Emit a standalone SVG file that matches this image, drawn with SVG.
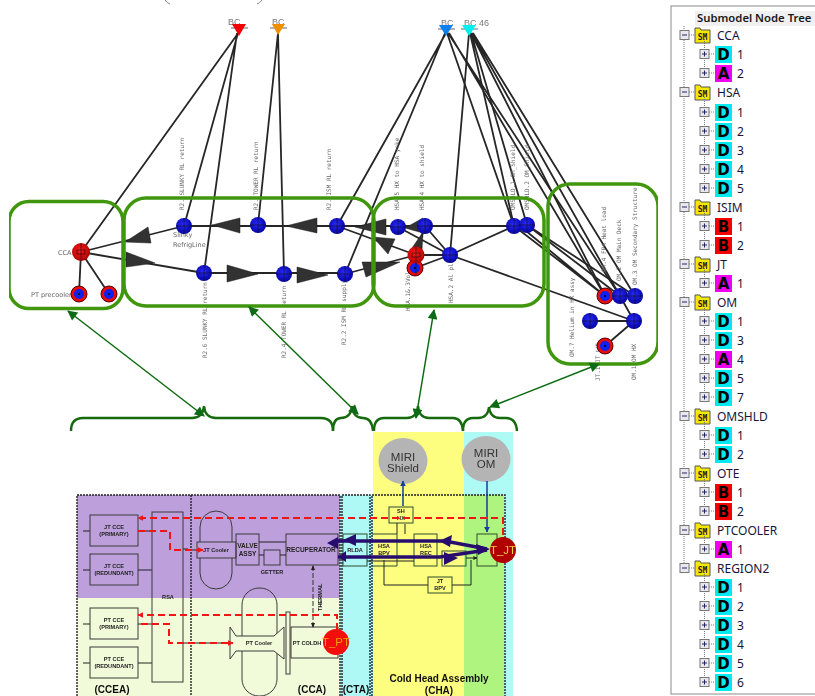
<svg xmlns="http://www.w3.org/2000/svg" width="815" height="696" viewBox="0 0 815 696">
<style>
text{font-family:"Liberation Sans",Arial,sans-serif}
.m{font-family:"DejaVu Sans Mono","Liberation Mono",monospace;font-size:6px;fill:#666}
.gl{font-family:"DejaVu Sans","Liberation Sans",sans-serif;font-size:6.5px;fill:#666}
.bc{font-size:9px;fill:#777}
.c{fill:none;stroke:#262626;stroke-width:1.8}
.gb{fill:none;stroke:#3f960c;stroke-width:3.5}
.ga{fill:none;stroke:#0e6b12;stroke-width:1.5;marker-start:url(#gm);marker-end:url(#gm)}
.br{fill:none;stroke:#176b10;stroke-width:2.4}
.ar{fill:#303030;stroke:#1a1a1a;stroke-width:.5}
.x{stroke:#111;stroke-width:.6;fill:none}
.b{fill:none;stroke:#3a3a3a;stroke-width:1}
.bg{fill:none;stroke:#2f4f2f;stroke-width:1}
.w{fill:none;stroke:#222;stroke-width:1}
.dsh{fill:none;stroke:#222;stroke-width:1.4;stroke-dasharray:2 1}
.rd{fill:none;stroke:#f01414;stroke-width:2;stroke-dasharray:7 4}
.nv{fill:none;stroke:#26116e;stroke-width:3.5}
.t5{font-size:5.6px;font-weight:bold;fill:#222;text-anchor:middle}
.t6{font-size:6.5px;font-weight:bold;fill:#222;text-anchor:middle}
.cap{font-size:10px;font-weight:bold;fill:#111;text-anchor:middle}
.miri{font-size:11.5px;fill:#333;text-anchor:middle}
.tp{font-size:11.5px;text-anchor:middle}
.hd{font-family:"Noto Sans",sans-serif;font-size:11.3px;font-weight:600;fill:#1a1a1a}
.tn{font-family:"Noto Sans",sans-serif;font-size:12px;fill:#16163a}
.D{fill:#00e8f0}.A{fill:#f000f0}.B{fill:#f50000}
.l{font-family:"DejaVu Sans",sans-serif;font-size:15px;font-weight:bold;fill:#000;text-anchor:middle}
.dot{fill:none;stroke:#777;stroke-width:1;stroke-dasharray:1 1}
</style>
<defs>
<filter id="soft" x="0" y="0" width="100%" height="100%"><feGaussianBlur stdDeviation="0.45"/></filter>
<radialGradient id="bg" cx="45%" cy="40%" r="65%"><stop offset="0" stop-color="#2a2aff"/><stop offset="1" stop-color="#00009a"/></radialGradient>
<radialGradient id="rg" cx="45%" cy="40%" r="65%"><stop offset="0" stop-color="#ff1818"/><stop offset="1" stop-color="#a80000"/></radialGradient>
<marker id="gm" viewBox="0 0 10 10" refX="9" refY="5" markerWidth="11" markerHeight="10" markerUnits="userSpaceOnUse" orient="auto-start-reverse"><path d="M0 0L10 5L0 10z" fill="#0e6b12"/></marker>
<marker id="bm" viewBox="0 0 10 10" refX="9" refY="5" markerWidth="6" markerHeight="6" markerUnits="userSpaceOnUse" orient="auto-start-reverse"><path d="M0 0L10 5L0 10z" fill="#123f9c"/></marker>
<marker id="km" viewBox="0 0 10 10" refX="9" refY="5" markerWidth="4" markerHeight="4" markerUnits="userSpaceOnUse" orient="auto"><path d="M0 0L10 5L0 10z" fill="#222"/></marker>
<marker id="rm" viewBox="0 0 10 10" refX="9" refY="5" markerWidth="6" markerHeight="6" markerUnits="userSpaceOnUse" orient="auto"><path d="M0 0L10 5L0 10z" fill="#f01414"/></marker>
<g id="bn"><circle r="8" fill="url(#bg)"/><path class="x" d="M-8 0H8M0-8V8"/></g>
<g id="rr"><circle r="8" fill="#e80808" stroke="#5a0000" stroke-width="1"/><circle r="5" fill="#1020f0"/><circle r="1" fill="#000"/></g>
<g id="pl"><rect x="700" y="-4.500" width="9" height="9" fill="#e8e8ee" stroke="#777"/><path d="M702 0H707M704.500-2.500V2.500" stroke="#22226a" fill="none"/><path class="dot" d="M709 0H715M704.500-15V-5"/></g>
<g id="mi"><rect x="680" y="-4.500" width="9" height="9" fill="#e8e8ee" stroke="#777"/><path d="M682 0H687" stroke="#22226a" fill="none"/><path class="dot" d="M689 0H695"/><path d="M695 -7h5l1 2h9v13h-15z" fill="#f4e800" stroke="#555" stroke-width="1"/><text x="702.500" y="5" style="font-size:8px;font-weight:bold;fill:#222;text-anchor:middle;font-family:'DejaVu Sans Mono',monospace">SM</text></g>
</defs>
<rect width="815" height="696" fill="#fff"/>
<g id="figure" filter="url(#soft)">
<g id="schematic-bg">
<rect x="77" y="495" width="263" height="103" fill="#bd9fdc"/>
<rect x="77" y="598" width="263" height="98" fill="#f1fbd9"/>
<rect x="340" y="495" width="33" height="201" fill="#aef8f6"/>
<rect x="373" y="432" width="91" height="264" fill="#fdfd80"/>
<rect x="464" y="432" width="49" height="264" fill="#aefaf4"/>
<rect x="464" y="495" width="40" height="201" fill="#aef47e"/>
<path class="dsh" d="M77 696V495H191M191 495H340V696M191 495V696M342 696V495H370V696M372 696V495H505V696"/>
</g>
<g id="top-marks"><path d="M165 0q2 3 5 4M262 0q-2 3-5 4" fill="none" stroke="#888"/></g>
<g id="connectors">
<path class="c" d="M239 32L81 252M238 33L184 226M237 33L204 273M278 33L258 225M278 33L284 274"/>
<path class="c" d="M446 33L337 226M445 33L345 274M447 33L514 226M448 33L620 296M449 33L605 296"/>
<path class="c" d="M469 33L450 255M470 33L514 226M471 33L527 225M471 33L605 296M472 33L620 296M473 33L635 296"/>
<path class="c" d="M81 252L184 226M81 252L204 273M81 252L79 294M81 252L109 294"/>
<path class="c" d="M184 226H337M337 226H527M204 273H345M337 226L416 255M345 274L416 255M425 226L416 255M416 255V268M416 255H450M415 268L450 255M398 227L450 255M425 226L450 255M514 226L450 255"/>
<path class="c" d="M514 226L605 296M520 226L605 296M527 225L620 296M527 225L635 296M450 255L634 321M620 296L634 321M590 321H634M605 346L634 321"/>
<g id="flow-arrows">
<path class="ar" d="M125 242L148 227L151 243z"/>
<path class="ar" d="M212 225L240 218V233z"/>
<path class="ar" d="M286 226L317 218V233z"/>
<path class="ar" d="M355 227L386 219V235z"/>
<path class="ar" d="M405 228L423 218V233z"/>
<path class="ar" d="M373 237L395 239L388 254z"/>
<path class="ar" d="M400 262L362 262L366 277z"/>
<path class="ar" d="M423 232L412 248L422 250z"/>
<path class="ar" d="M155 263L126 252V267z"/>
<path class="ar" d="M258 274L227 265V282z"/>
<path class="ar" d="M328 275L297 267V283z"/>
</g>
</g>
<g id="graph-labels">
<text class="m" transform="translate(184 210) rotate(-90)">R2.  SLUNKY RL return</text>
<text class="m" transform="translate(258 210) rotate(-90)">R2.  TOWER RL return</text>
<text class="m" transform="translate(331 210) rotate(-90)">R2.  ISM RL return</text>
<text class="m" transform="translate(207 358) rotate(-90)">R2.6 SLUNKY RL return</text>
<text class="m" transform="translate(286 358) rotate(-90)">R2.4 TOWER RL return</text>
<text class="m" transform="translate(346 345) rotate(-90)">R2.2 ISM RL supply</text>
<text class="m" transform="translate(399 210) rotate(-90)">HSA.5 HX to HSA yoke</text>
<text class="m" transform="translate(424 210) rotate(-90)">HSA.4 HX to shield</text>
<text class="m" transform="translate(515 210) rotate(-90)">OMSHLD.1 OM_Shield</text>
<text class="m" transform="translate(529 210) rotate(-90)">OMSHLD.2 OM_Shield</text>
<text class="m" transform="translate(410 311) rotate(-90)">HSA.1&amp;.3Vol</text>
<text class="m" transform="translate(453 303) rotate(-90)">HSA.2 Al plate</text>
<text class="m" transform="translate(574 357) rotate(-90)">OM.7 Helium in HX assy</text>
<text class="m" transform="translate(636 380) rotate(-90)">OM.1  OM HX</text>
<text class="m" transform="translate(600 381) rotate(-90)">JT.1 JT LVL</text>
<text class="m" transform="translate(606 272) rotate(-90)">OM.4 FPA Heat load</text>
<text class="m" transform="translate(621 281) rotate(-90)">OM.2 OM Main Deck</text>
<text class="m" transform="translate(637 285) rotate(-90)">OM.3 OM Secondary Structure</text>
<text class="gl" x="173" y="237">Slinky</text>
<text class="gl" x="173" y="247">RefrigLine</text>
<text class="gl" x="58" y="255">CCA</text>
<text class="gl" x="31" y="297">PT precooler</text>
</g>
<g id="bc-red"><text class="bc" x="228" y="25">BC</text><path d="M231 28H248" stroke="#666"/><path d="M232 24H246L239 36z" fill="#f00000"/></g>
<g id="bc-orange"><text class="bc" x="272" y="25">BC</text><path d="M270 28H287" stroke="#666"/><path d="M272 24H285L278 35z" fill="#f09000"/></g>
<g id="bc-blue"><text class="bc" x="441" y="26">BC</text><path d="M438 29H455" stroke="#666"/><path d="M439 25H453L446 36z" fill="#0a7ff0"/></g>
<g id="bc-cyan"><text class="bc" x="464" y="26">BC  46</text><path d="M461 29H478" stroke="#666"/><path d="M462 25H476L469 36z" fill="#00f0f0"/></g>
<g id="node-cca"><circle cx="81" cy="252" r="9" fill="url(#rg)"/><path class="x" d="M81 243V261M77 250h8v4h-8z"/></g>
<g id="node-pt1"><use href="#rr" x="79" y="294"/></g>
<g id="node-pt2"><use href="#rr" x="109" y="294"/></g>
<g id="node-r2a"><use href="#bn" x="184" y="226"/></g>
<g id="node-r2b"><use href="#bn" x="258" y="225"/></g>
<g id="node-r2c"><use href="#bn" x="337" y="226"/></g>
<g id="node-r26"><use href="#bn" x="204" y="273"/></g>
<g id="node-r24"><use href="#bn" x="284" y="274"/></g>
<g id="node-r22"><use href="#bn" x="345" y="274"/></g>
<g id="node-hsa5"><use href="#bn" x="398" y="227"/></g>
<g id="node-hsa4"><use href="#bn" x="425" y="226"/></g>
<g id="node-hsa2"><use href="#bn" x="450" y="255"/></g>
<g id="node-hsa3"><use href="#rr" x="415" y="268"/></g>
<g id="node-hsa1"><circle cx="416" cy="255" r="8.500" fill="url(#rg)"/><path class="x" d="M416 247V275M412 253h8v4h-8z"/></g>
<g id="node-oms1"><use href="#bn" x="514" y="226"/></g>
<g id="node-oms2"><use href="#bn" x="527" y="225"/></g>
<g id="node-om4"><use href="#rr" x="605" y="296"/></g>
<g id="node-om2"><use href="#bn" x="620" y="296"/></g>
<g id="node-om3"><use href="#bn" x="635" y="296"/></g>
<g id="node-om7"><use href="#bn" x="590" y="321"/></g>
<g id="node-om1"><use href="#bn" x="634" y="321"/></g>
<g id="node-jt1"><use href="#rr" x="605" y="346"/></g>
<g id="group-cca"><rect class="gb" x="9" y="201.500" width="114" height="107" rx="20"/></g>
<g id="group-refrig"><rect class="gb" x="124" y="198" width="250" height="108" rx="22"/></g>
<g id="group-hsa"><rect class="gb" x="373" y="198" width="171" height="108" rx="22"/></g>
<g id="group-om"><rect class="gb" x="548" y="184" width="110" height="180" rx="22"/></g>
<g id="braces">
<path class="br" d="M71 431q0-13 12-13H192q11 0 12-12q1 12 12 12H321q12 0 12 13"/>
<path class="br" d="M333 431q0-13 8-13q10 0 11-12q1 12 11 12q9 0 10 13"/>
<path class="br" d="M374 431q0-13 10-13H407q10 0 11-12q1 12 11 12H453q9 0 10 13"/>
<path class="br" d="M463 431q0-13 10-13h5q10 0 11-11q1 11 11 11h6q10 0 11 13"/>
</g>
<g id="group-arrows">
<path class="ga" d="M68 311L204 416"/>
<path class="ga" d="M249 307L358 414"/>
<path class="ga" d="M434 310L416 418"/>
<path class="ga" d="M599 364L490 407"/>
</g>
<g id="ccea-blocks">
<g id="jt-cce-p"><rect class="b" x="90" y="515" width="48" height="31"/><text class="t5" x="114" y="529">JT CCE</text><text class="t5" x="114" y="536">(PRIMARY)</text><path class="w" d="M83 531H90M138 531H152M183 549H188"/></g>
<g id="jt-cce-r"><rect class="b" x="90" y="554" width="48" height="31"/><text class="t5" x="114" y="568">JT CCE</text><text class="t5" x="114" y="575">(REDUNDANT)</text><path class="w" d="M83 570H90M138 570H152"/></g>
<g id="pt-cce-p"><rect class="b" x="90" y="608" width="48" height="31"/><text class="t5" x="114" y="622">PT CCE</text><text class="t5" x="114" y="629">(PRIMARY)</text><path class="w" d="M83 624H90M138 624H152M183 643H188"/></g>
<g id="pt-cce-r"><rect class="b" x="90" y="647" width="48" height="31"/><text class="t5" x="114" y="661">PT CCE</text><text class="t5" x="114" y="668">(REDUNDANT)</text><path class="w" d="M83 663H90M138 663H152"/></g>
<g id="rsa"><rect class="b" x="152" y="512" width="31" height="170"/><text class="t5" x="168" y="599">RSA</text></g>
</g>
<g id="cca-blocks">
<g id="jt-cooler"><rect class="b" x="200" y="511" width="32" height="78" rx="16"/><rect class="b" x="197" y="542" width="39" height="16" style="fill:#bd9fdc"/><text class="t5" x="216" y="552">JT Cooler</text></g>
<g id="valve"><rect class="b" x="236" y="534" width="23" height="31"/><text class="t6" x="247.500" y="548">VALVE</text><text class="t6" x="247.500" y="556">ASSY</text></g>
<g id="getter"><rect class="b" x="264" y="550" width="16" height="15"/><text class="t5" x="272" y="574">GETTER</text></g>
<g id="recup"><rect class="b" x="286" y="534" width="52" height="31"/><text class="t6" x="311" y="552">RECUPERATOR</text></g>
<path class="w" d="M286 542H259M259 555H264M280 555H286M188 550H197"/>
<g id="pt-cooler"><rect class="b" x="242" y="588" width="35" height="108" rx="17"/><path d="M230 627L236 636H274L284 627V659L274 651H236L230 659z" fill="#f1fbd9" stroke="#3a3a3a"/><text class="t5" x="259" y="645">PT Cooler</text><rect x="286" y="612" width="4" height="62" fill="#f1fbd9" stroke="#3a3a3a"/></g>
<g id="pt-coldh"><rect class="b" x="291" y="627" width="47" height="31"/><text class="t5" x="307" y="645">PT COLDH</text></g>
<path class="w" d="M188 643H230"/>
<g id="thermal"><path d="M313 566V627" fill="none" stroke="#333" stroke-width="1" stroke-dasharray="5 2"/><path d="M313 565l-2 5h4zM313 628l-2-5h4z" fill="#222"/><text class="t5" transform="translate(322 611) rotate(-90)" style="text-anchor:start">THERMAL</text></g>
</g>
<g id="cta-cha-blocks">
<g id="rlda"><rect class="bg" x="343" y="534" width="24" height="32"/><text class="t5" x="355" y="552">RLDA</text></g>
<g id="hsa-bpv"><path class="bg" d="M397 534V566M372 534H397M372 566H397"/><text class="t5" x="384" y="548">HSA</text><text class="t5" x="384" y="555">BPV</text></g>
<g id="hsa-rec"><rect class="bg" x="414" y="534" width="23" height="32"/><text class="t5" x="426" y="548">HSA</text><text class="t5" x="426" y="555">REC</text></g>
<rect class="bg" x="442" y="551" width="24" height="15"/>
<rect class="bg" x="477" y="534" width="20" height="32"/>
<g id="sh-hx"><rect class="bg" x="389" y="507" width="24" height="16"/><text class="t5" x="401" y="513">SH</text><text class="t5" x="401" y="520">HX</text></g>
<g id="jt-bpv"><rect class="bg" x="428" y="577" width="24" height="16"/><text class="t5" x="440" y="583">JT</text><text class="t5" x="440" y="590">BPV</text></g>
<path class="w" d="M384 560V585H428M452 585H471V560M397 534V523M405 534V524M367 561H414M466 558H477" marker-end="url(#km)"/>
</g>
<g id="miri-shield"><ellipse cx="403" cy="461" rx="24.500" ry="23" fill="#b4b4b4"/><text class="miri" x="403" y="461">MIRI</text><text class="miri" x="403" y="472">Shield</text></g>
<g id="miri-om"><ellipse cx="486" cy="459" rx="24.500" ry="23" fill="#b4b4b4"/><text class="miri" x="486" y="457">MIRI</text><text class="miri" x="486" y="468">OM</text></g>
<path d="M403 481V506M487 481V532" fill="none" stroke="#123f9c" stroke-width="1.500" marker-start="url(#bm)" marker-end="url(#bm)"/>
<g id="red-dashes">
<path class="rd" d="M503 535V518H138" marker-end="url(#rm)"/>
<path class="rd" d="M138 531H170V550H203" marker-end="url(#rm)"/>
<path class="rd" d="M337 630V615H138" marker-end="url(#rm)"/>
<path class="rd" d="M141 624H169V643H233" marker-end="url(#rm)"/>
</g>
<g id="navy-lines">
<path class="nv" d="M487 549L445 541H338"/>
<path class="nv" d="M338 557H440L487 550"/>
<path d="M343 540L356 534V546zM439 541L452 535L450 547zM327 543L338 537V549zM338 557L346 551V562zM458 558L444 552V565zM490 549L476 544L478 555z" fill="#26116e"/>
</g>
<g id="t-pt"><circle cx="336" cy="642" r="13" fill="#f40808"/><text class="tp" x="336" y="646" fill="#f5a000">T_PT</text></g>
<g id="t-jt"><circle cx="503" cy="550" r="13" fill="#b00000"/><text class="tp" x="503" y="554" fill="#f0d040">T_JT</text></g>
<g id="captions">
<text class="cap" x="112" y="693">(CCEA)</text>
<text class="cap" x="312" y="693">(CCA)</text>
<text class="cap" x="356" y="693">(CTA)</text>
<text class="cap" x="439" y="682">Cold Head Assembly</text>
<text class="cap" x="439" y="694">(CHA)</text>
</g>
</g>
<g id="tree">
<rect x="671" y="6" width="150" height="688" fill="#fff" stroke="#8a8a8a"/>
<rect x="695" y="11" width="120" height="15" fill="#f0f0f0"/>
<text class="hd" x="697" y="21.500">Submodel Node Tree</text>
<path class="dot" d="M684 26V568"/>
<g transform="translate(0 35)"><use href="#mi"/><text class="tn" x="717" y="4.500">CCA</text></g>
<g transform="translate(0 54)"><use href="#pl"/><rect class="D" x="715" y="-8" width="17" height="17"/><text class="l" x="723.500" y="6">D</text><text class="tn" x="737" y="4.500">1</text></g>
<g transform="translate(0 73)"><use href="#pl"/><rect class="A" x="715" y="-8" width="17" height="17"/><text class="l" x="723.500" y="6">A</text><text class="tn" x="737" y="4.500">2</text></g>
<g transform="translate(0 92)"><use href="#mi"/><text class="tn" x="717" y="4.500">HSA</text></g>
<g transform="translate(0 112)"><use href="#pl"/><rect class="D" x="715" y="-8" width="17" height="17"/><text class="l" x="723.500" y="6">D</text><text class="tn" x="737" y="4.500">1</text></g>
<g transform="translate(0 131)"><use href="#pl"/><rect class="D" x="715" y="-8" width="17" height="17"/><text class="l" x="723.500" y="6">D</text><text class="tn" x="737" y="4.500">2</text></g>
<g transform="translate(0 150)"><use href="#pl"/><rect class="D" x="715" y="-8" width="17" height="17"/><text class="l" x="723.500" y="6">D</text><text class="tn" x="737" y="4.500">3</text></g>
<g transform="translate(0 169)"><use href="#pl"/><rect class="D" x="715" y="-8" width="17" height="17"/><text class="l" x="723.500" y="6">D</text><text class="tn" x="737" y="4.500">4</text></g>
<g transform="translate(0 188)"><use href="#pl"/><rect class="D" x="715" y="-8" width="17" height="17"/><text class="l" x="723.500" y="6">D</text><text class="tn" x="737" y="4.500">5</text></g>
<g transform="translate(0 207)"><use href="#mi"/><text class="tn" x="717" y="4.500">ISIM</text></g>
<g transform="translate(0 226)"><use href="#pl"/><rect class="B" x="715" y="-8" width="17" height="17"/><text class="l" x="723.500" y="6">B</text><text class="tn" x="737" y="4.500">1</text></g>
<g transform="translate(0 245)"><use href="#pl"/><rect class="B" x="715" y="-8" width="17" height="17"/><text class="l" x="723.500" y="6">B</text><text class="tn" x="737" y="4.500">2</text></g>
<g transform="translate(0 264)"><use href="#mi"/><text class="tn" x="717" y="4.500">JT</text></g>
<g transform="translate(0 283)"><use href="#pl"/><rect class="A" x="715" y="-8" width="17" height="17"/><text class="l" x="723.500" y="6">A</text><text class="tn" x="737" y="4.500">1</text></g>
<g transform="translate(0 302)"><use href="#mi"/><text class="tn" x="717" y="4.500">OM</text></g>
<g transform="translate(0 321)"><use href="#pl"/><rect class="D" x="715" y="-8" width="17" height="17"/><text class="l" x="723.500" y="6">D</text><text class="tn" x="737" y="4.500">1</text></g>
<g transform="translate(0 340)"><use href="#pl"/><rect class="D" x="715" y="-8" width="17" height="17"/><text class="l" x="723.500" y="6">D</text><text class="tn" x="737" y="4.500">3</text></g>
<g transform="translate(0 359)"><use href="#pl"/><rect class="A" x="715" y="-8" width="17" height="17"/><text class="l" x="723.500" y="6">A</text><text class="tn" x="737" y="4.500">4</text></g>
<g transform="translate(0 378)"><use href="#pl"/><rect class="D" x="715" y="-8" width="17" height="17"/><text class="l" x="723.500" y="6">D</text><text class="tn" x="737" y="4.500">5</text></g>
<g transform="translate(0 397)"><use href="#pl"/><rect class="D" x="715" y="-8" width="17" height="17"/><text class="l" x="723.500" y="6">D</text><text class="tn" x="737" y="4.500">7</text></g>
<g transform="translate(0 416)"><use href="#mi"/><text class="tn" x="717" y="4.500">OMSHLD</text></g>
<g transform="translate(0 435)"><use href="#pl"/><rect class="D" x="715" y="-8" width="17" height="17"/><text class="l" x="723.500" y="6">D</text><text class="tn" x="737" y="4.500">1</text></g>
<g transform="translate(0 454)"><use href="#pl"/><rect class="D" x="715" y="-8" width="17" height="17"/><text class="l" x="723.500" y="6">D</text><text class="tn" x="737" y="4.500">2</text></g>
<g transform="translate(0 473)"><use href="#mi"/><text class="tn" x="717" y="4.500">OTE</text></g>
<g transform="translate(0 492)"><use href="#pl"/><rect class="B" x="715" y="-8" width="17" height="17"/><text class="l" x="723.500" y="6">B</text><text class="tn" x="737" y="4.500">1</text></g>
<g transform="translate(0 511)"><use href="#pl"/><rect class="B" x="715" y="-8" width="17" height="17"/><text class="l" x="723.500" y="6">B</text><text class="tn" x="737" y="4.500">2</text></g>
<g transform="translate(0 530)"><use href="#mi"/><text class="tn" x="717" y="4.500">PTCOOLER</text></g>
<g transform="translate(0 549)"><use href="#pl"/><rect class="A" x="715" y="-8" width="17" height="17"/><text class="l" x="723.500" y="6">A</text><text class="tn" x="737" y="4.500">1</text></g>
<g transform="translate(0 568)"><use href="#mi"/><text class="tn" x="717" y="4.500">REGION2</text></g>
<g transform="translate(0 587)"><use href="#pl"/><rect class="D" x="715" y="-8" width="17" height="17"/><text class="l" x="723.500" y="6">D</text><text class="tn" x="737" y="4.500">1</text></g>
<g transform="translate(0 606)"><use href="#pl"/><rect class="D" x="715" y="-8" width="17" height="17"/><text class="l" x="723.500" y="6">D</text><text class="tn" x="737" y="4.500">2</text></g>
<g transform="translate(0 625)"><use href="#pl"/><rect class="D" x="715" y="-8" width="17" height="17"/><text class="l" x="723.500" y="6">D</text><text class="tn" x="737" y="4.500">3</text></g>
<g transform="translate(0 644)"><use href="#pl"/><rect class="D" x="715" y="-8" width="17" height="17"/><text class="l" x="723.500" y="6">D</text><text class="tn" x="737" y="4.500">4</text></g>
<g transform="translate(0 663)"><use href="#pl"/><rect class="D" x="715" y="-8" width="17" height="17"/><text class="l" x="723.500" y="6">D</text><text class="tn" x="737" y="4.500">5</text></g>
<g transform="translate(0 682)"><use href="#pl"/><rect class="D" x="715" y="-8" width="17" height="17"/><text class="l" x="723.500" y="6">D</text><text class="tn" x="737" y="4.500">6</text></g>
</g>
</svg>
